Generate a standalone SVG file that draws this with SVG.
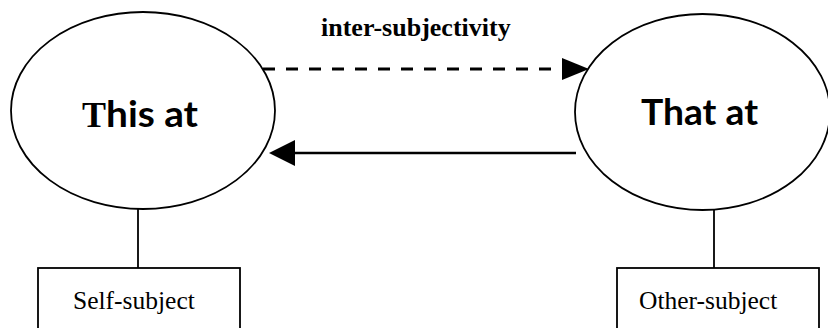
<svg xmlns="http://www.w3.org/2000/svg" width="828" height="328" viewBox="0 0 828 328">
  <style>
    .shape { fill: #ffffff; stroke: #000000; stroke-width: 1.8; }
    .link { fill: none; stroke: #000000; }
    .big { font-family: Lato, "Open Sans", "DejaVu Sans", sans-serif; font-weight: bold; font-size: 36px; fill: #000000; }
    .bigT { font-family: "Liberation Serif", "Times New Roman", serif; font-weight: bold; font-size: 36px; fill: #000000; }
    .box { font-family: "Liberation Serif", "Times New Roman", serif; font-size: 25.5px; fill: #000000; }
    .title { font-family: "Liberation Serif", "Times New Roman", serif; font-weight: bold; font-size: 26px; fill: #000000; }
  </style>
  <defs>
    <marker id="headDash" markerUnits="userSpaceOnUse" viewBox="0 0 27 22" refX="0" refY="11" markerWidth="27" markerHeight="22" orient="auto">
      <path d="M0,0 L27,11 L0,22 z" fill="#000000"/>
    </marker>
    <marker id="headSolid" markerUnits="userSpaceOnUse" viewBox="0 0 26 26" refX="0" refY="13" markerWidth="26" markerHeight="26" orient="auto">
      <path d="M0,0 L26,13 L0,26 z" fill="#000000"/>
    </marker>
  </defs>
  <rect width="828" height="328" fill="#ffffff"/>

  <g id="connectors">
    <line class="link" x1="263" y1="69" x2="562" y2="69" stroke-width="3" stroke-dasharray="12 11" marker-end="url(#headDash)"/>
    <line class="link" x1="576" y1="153" x2="295" y2="153" stroke-width="2.6" marker-end="url(#headSolid)"/>
    <line class="link" x1="138" y1="209" x2="138" y2="268" stroke-width="1.8"/>
    <line class="link" x1="714" y1="210" x2="714" y2="268" stroke-width="1.8"/>
  </g>

  <g id="label-intersubjectivity">
    <text class="title" x="321" y="36">inter-subjectivity</text>
  </g>

  <g id="node-this">
    <ellipse class="shape" cx="143" cy="110.5" rx="132" ry="98.5"/>
    <text x="82" y="127"><tspan class="bigT">T</tspan><tspan class="big" textLength="92" lengthAdjust="spacingAndGlyphs">his at</tspan></text>
  </g>

  <g id="node-that">
    <ellipse class="shape" cx="702.5" cy="112" rx="127.5" ry="98"/>
    <text class="big" x="641" y="125" textLength="117" lengthAdjust="spacingAndGlyphs">That at</text>
  </g>

  <g id="node-self">
    <rect class="shape" x="38" y="268" width="202" height="80"/>
    <text class="box" x="73" y="309">Self-subject</text>
  </g>

  <g id="node-other">
    <rect class="shape" x="617" y="268" width="202" height="80"/>
    <text class="box" x="639" y="309">Other-subject</text>
  </g>
</svg>
